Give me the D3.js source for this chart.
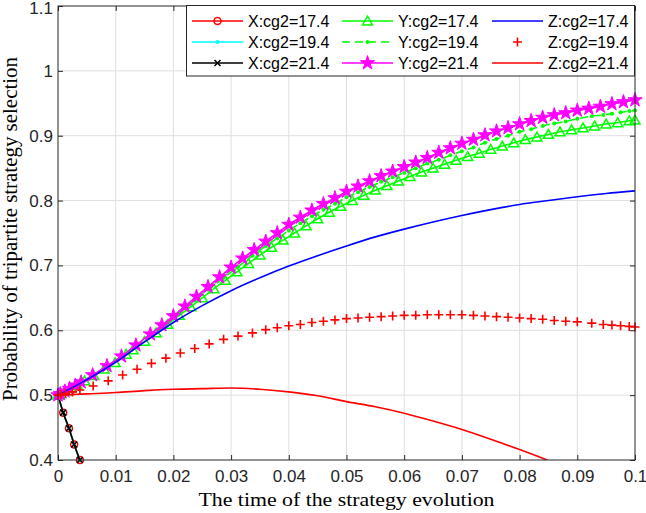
<!DOCTYPE html>
<html><head><meta charset="utf-8">
<script src="https://cdn.jsdelivr.net/npm/d3@7"></script>
<style>html,body{margin:0;padding:0;background:#fff;} svg{display:block}</style>
</head><body><div id="chart"></div>
<script>
// ---------- data ----------
const xTicks = [0,0.01,0.02,0.03,0.04,0.05,0.06,0.07,0.08,0.09,0.1];
const xTickLabels = ["0","0.01","0.02","0.03","0.04","0.05","0.06","0.07","0.08","0.09","0.1"];
const yTicks = [0.4,0.5,0.6,0.7,0.8,0.9,1.0,1.1];
const yTickLabels = ["0.4","0.5","0.6","0.7","0.8","0.9","1","1.1"];

// X curves (all three coincide)
const tX = [0,0.0009,0.0019,0.0028,0.0038];
const xCg174 = [0.5,0.473,0.449,0.424,0.4];
const xCg194 = [0.5,0.473,0.449,0.424,0.4];
const xCg214 = [0.5,0.473,0.449,0.424,0.4];

// run cg2 = 17.4 (triangles)
const t174 = [0,0.0005,0.0013,0.0022,0.0033,0.0046,0.0062,0.008,0.0099,0.0118,0.013,0.015,0.017,0.019,0.021,0.023,0.025,0.027,0.029,0.031,0.033,0.035,0.037,0.039,0.041,0.043,0.045,0.047,0.049,0.051,0.053,0.055,0.057,0.059,0.061,0.063,0.065,0.067,0.069,0.071,0.073,0.075,0.077,0.079,0.081,0.083,0.085,0.087,0.089,0.091,0.093,0.095,0.097,0.099,0.1];
const yCg174 = [0.5,0.502,0.506,0.511,0.516,0.522,0.530,0.540,0.550,0.563,0.570,0.583,0.596,0.609,0.623,0.636,0.650,0.664,0.677,0.690,0.703,0.716,0.728,0.739,0.750,0.761,0.772,0.782,0.791,0.800,0.808,0.816,0.823,0.830,0.837,0.844,0.850,0.856,0.862,0.868,0.873,0.879,0.884,0.889,0.894,0.898,0.902,0.906,0.909,0.912,0.915,0.918,0.920,0.923,0.924];

// run cg2 = 19.4 (dashed Y, plus Z)
const t194 = [0,0.0005,0.0013,0.0025,0.0038,0.0061,0.0087,0.0112,0.0137,0.0162,0.0187,0.0212,0.0237,0.0262,0.0287,0.0312,0.0337,0.036,0.038,0.040,0.042,0.044,0.046,0.048,0.050,0.052,0.054,0.056,0.058,0.060,0.062,0.064,0.066,0.068,0.070,0.072,0.074,0.076,0.078,0.080,0.082,0.084,0.086,0.088,0.090,0.0925,0.0945,0.096,0.0975,0.099,0.1];
const yCg194 = [0.5,0.502,0.506,0.512,0.519,0.531,0.545,0.560,0.576,0.593,0.610,0.628,0.646,0.663,0.681,0.698,0.715,0.730,0.742,0.754,0.765,0.776,0.786,0.795,0.805,0.813,0.821,0.829,0.836,0.843,0.850,0.857,0.863,0.870,0.876,0.882,0.889,0.895,0.900,0.906,0.910,0.915,0.919,0.922,0.926,0.930,0.932,0.934,0.936,0.938,0.939];
const zCg194 = [0.5,0.501,0.503,0.505,0.508,0.514,0.522,0.531,0.540,0.549,0.557,0.565,0.572,0.579,0.586,0.591,0.596,0.601,0.604,0.607,0.609,0.612,0.614,0.616,0.618,0.619,0.620,0.621,0.622,0.623,0.623,0.624,0.624,0.624,0.624,0.623,0.622,0.621,0.620,0.619,0.618,0.617,0.615,0.614,0.613,0.611,0.609,0.608,0.607,0.606,0.605];

// run cg2 = 21.4 (stars)
const t214 = [0,0.0004,0.0012,0.002,0.003,0.004,0.006,0.0085,0.011,0.0135,0.016,0.018,0.020,0.022,0.024,0.026,0.028,0.030,0.032,0.034,0.036,0.038,0.040,0.042,0.044,0.046,0.048,0.050,0.052,0.054,0.056,0.058,0.060,0.062,0.064,0.066,0.068,0.070,0.072,0.074,0.076,0.078,0.080,0.082,0.084,0.086,0.088,0.090,0.092,0.094,0.096,0.098,0.1];
const yCg214 = [0.5,0.502,0.506,0.510,0.515,0.520,0.531,0.545,0.560,0.577,0.594,0.608,0.622,0.637,0.652,0.667,0.682,0.697,0.711,0.724,0.737,0.750,0.763,0.774,0.785,0.795,0.804,0.814,0.822,0.830,0.838,0.845,0.852,0.859,0.866,0.874,0.881,0.888,0.894,0.901,0.907,0.912,0.918,0.923,0.928,0.932,0.935,0.939,0.942,0.945,0.949,0.952,0.955];

// line-only Z curves
const tZ = [0,0.005,0.01,0.015,0.02,0.025,0.03,0.035,0.04,0.045,0.05,0.055,0.06,0.065,0.07,0.075,0.08,0.085,0.09,0.095,0.1];
const zCg174 = [0.5,0.524,0.551,0.582,0.612,0.638,0.661,0.681,0.699,0.715,0.730,0.744,0.756,0.767,0.777,0.786,0.794,0.800,0.806,0.811,0.815];
const zCg214 = [0.5,0.502,0.504,0.507,0.509,0.510,0.511,0.509,0.505,0.499,0.490,0.482,0.472,0.460,0.447,0.432,0.416,0.399,0.380,0.360,0.340];

const legendLabels = ["X:cg2=17.4","X:cg2=19.4","X:cg2=21.4","Y:cg2=17.4","Y:cg2=19.4","Y:cg2=21.4","Z:cg2=17.4","Z:cg2=19.4","Z:cg2=21.4"];

// ---------- chart ----------
const W = 646, H = 513;
const L = 58, R = 635, T = 6, B = 460;
const x = d3.scaleLinear().domain([0, 0.1]).range([L, R]);
const y = d3.scaleLinear().domain([0.4, 1.1]).range([B, T]);
const sans = "'Liberation Sans', Arial, Helvetica, sans-serif";
const serif = "'Liberation Serif', 'Times New Roman', serif";
const axisColor = "#262626";

const svg = d3.select("#chart").append("svg").attr("width", W).attr("height", H)
  .style("background", "#fff");

svg.append("defs").append("clipPath").attr("id", "clip")
  .append("rect").attr("x", L).attr("y", T).attr("width", R - L).attr("height", B - T);

// grid
const grid = svg.append("g");
grid.selectAll(".vg").data(xTicks.slice(1, -1)).join("line")
  .attr("x1", d => x(d)).attr("x2", d => x(d)).attr("y1", T).attr("y2", B)
  .attr("stroke", "#dfdfdf").attr("stroke-width", 1);
grid.selectAll(".hg").data(yTicks.slice(1, -1)).join("line")
  .attr("y1", d => y(d)).attr("y2", d => y(d)).attr("x1", L).attr("x2", R)
  .attr("stroke", "#dfdfdf").attr("stroke-width", 1);

// axes
function styleAxis(g) {
  g.select(".domain").remove();
  g.selectAll(".tick line").attr("stroke", axisColor);
  g.selectAll(".tick text").attr("fill", axisColor).style("font-family", sans).style("font-size", "17px");
}
svg.append("g").attr("transform", `translate(0,${B})`)
  .call(d3.axisBottom(x).tickValues(xTicks).tickFormat((d, i) => xTickLabels[i]).tickSizeInner(-5).tickSizeOuter(0).tickPadding(10))
  .call(styleAxis);
svg.append("g").attr("transform", `translate(0,${T})`)
  .call(d3.axisTop(x).tickValues(xTicks).tickFormat("").tickSizeInner(-5).tickSizeOuter(0))
  .call(styleAxis);
svg.append("g").attr("transform", `translate(${L},0)`)
  .call(d3.axisLeft(y).tickValues(yTicks).tickFormat((d, i) => yTickLabels[i]).tickSizeInner(-5).tickSizeOuter(0).tickPadding(5))
  .call(styleAxis);
svg.append("g").attr("transform", `translate(${R},0)`)
  .call(d3.axisRight(y).tickValues(yTicks).tickFormat("").tickSizeInner(-5).tickSizeOuter(0))
  .call(styleAxis);
// keep the top label inside the picture
svg.selectAll(".tick text").filter(function () { return this.textContent === "1.1"; }).attr("dy", "0.45em");

// ---------- series ----------
const plot = svg.append("g");
const lineGen = d3.line().x(d => x(d[0])).y(d => y(d[1])).curve(d3.curveMonotoneX);
const zip = (t, v) => t.map((d, i) => [d, v[i]]);

const starSym = d3.symbol().type(d3.symbolStar).size(62)();
const triSym = d3.symbol().type(d3.symbolTriangle).size(44)();

function marker(g, type, color) {
  if (type === "o") g.append("circle").attr("r", 3.5).attr("fill", "none").attr("stroke", color).attr("stroke-width", 1.5);
  else if (type === ".") g.append("circle").attr("r", 2).attr("fill", color);
  else if (type === "x") g.append("path").attr("d", "M-3,-3L3,3M-3,3L3,-3").attr("stroke", color).attr("stroke-width", 1.5);
  else if (type === "^") g.append("path").attr("d", triSym).attr("transform", "translate(0,1)").attr("fill", "none").attr("stroke", color).attr("stroke-width", 1.5);
  else if (type === "p") g.append("path").attr("d", starSym).attr("fill", color).attr("stroke", color).attr("stroke-width", 1);
  else if (type === "+") g.append("path").attr("d", "M-4.5,0H4.5M0,-4.5V4.5").attr("stroke", color).attr("stroke-width", 1.6);
}

const series = [
  {t: tX, v: xCg174, color: "#ff0000", dash: null, mk: "o", line: true},
  {t: tX, v: xCg194, color: "#00ffff", dash: null, mk: ".", line: true},
  {t: tX, v: xCg214, color: "#000000", dash: null, mk: "x", line: true},
  {t: t174, v: yCg174, color: "#00ff00", dash: null, mk: "^", line: true},
  {t: t194, v: yCg194, color: "#00ff00", dash: "8,5", mk: ".", line: true},
  {t: t214, v: yCg214, color: "#ff00ff", dash: null, mk: "p", line: true},
  {t: tZ, v: zCg174, color: "#0000ff", dash: null, mk: null, line: true},
  {t: t194, v: zCg194, color: "#ff0000", dash: null, mk: "+", line: false},
  {t: tZ, v: zCg214, color: "#ff0000", dash: null, mk: null, line: true}
];

series.forEach(s => {
  const pts = zip(s.t, s.v);
  if (s.line) {
    plot.append("path").datum(pts).attr("clip-path", "url(#clip)")
      .attr("d", lineGen).attr("fill", "none").attr("stroke", s.color)
      .attr("stroke-width", 1.6).attr("stroke-dasharray", s.dash);
  }
  if (s.mk) {
    pts.forEach(p => {
      const g = plot.append("g").attr("transform", `translate(${x(p[0])},${y(p[1])})`);
      marker(g, s.mk, s.color);
    });
  }
});

// box
svg.append("rect").attr("x", L).attr("y", T).attr("width", R - L).attr("height", B - T)
  .attr("fill", "none").attr("stroke", axisColor).attr("stroke-width", 1);

// ---------- legend ----------
const lg = svg.append("g");
lg.append("rect").attr("x", 186.5).attr("y", 5.5).attr("width", 448).attr("height", 70.5)
  .attr("fill", "#fff").attr("stroke", axisColor).attr("stroke-width", 1);
const colX = [192, 342, 492];
const rowY = [21, 42, 63];
series.forEach((s, i) => {
  const c = Math.floor(i / 3), r = i % 3;
  const x0 = colX[c], yy = rowY[r];
  if (s.line) {
    lg.append("line").attr("x1", x0).attr("x2", x0 + 51).attr("y1", yy).attr("y2", yy)
      .attr("stroke", s.color).attr("stroke-width", 1.6).attr("stroke-dasharray", s.dash);
  }
  if (s.mk) {
    const g = lg.append("g").attr("transform", `translate(${x0 + 25.5},${yy})`);
    marker(g, s.mk, s.color);
  }
  lg.append("text").attr("x", x0 + 56).attr("y", yy).attr("dy", "0.36em")
    .style("font-family", sans).style("font-size", "16px").attr("fill", "#000")
    .text(legendLabels[i]);
});

// ---------- titles ----------
svg.append("text").attr("x", (L + R) / 2).attr("y", 506).attr("text-anchor", "middle")
  .style("font-family", serif).style("font-size", "19px").attr("fill", "#000")
  .attr("textLength", 296).attr("lengthAdjust", "spacingAndGlyphs")
  .text("The time of the strategy evolution");
svg.append("text").attr("transform", `translate(17,${(T + B) / 2 - 4}) rotate(-90)`)
  .attr("text-anchor", "middle")
  .style("font-family", serif).style("font-size", "20px").attr("fill", "#000")
  .attr("textLength", 344).attr("lengthAdjust", "spacingAndGlyphs")
  .text("Probability of tripartite strategy selection");
</script>
</body></html>
